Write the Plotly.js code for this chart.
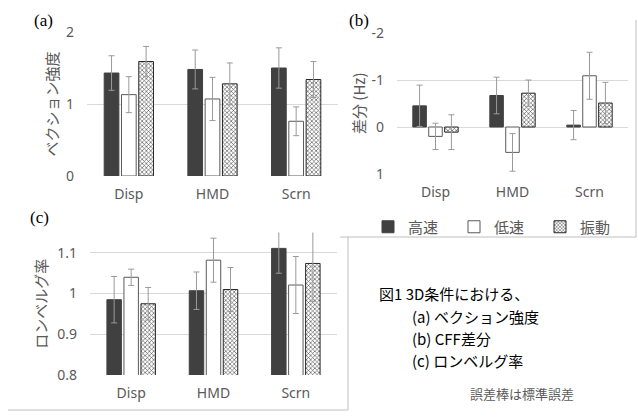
<!DOCTYPE html>
<html><head><meta charset="utf-8">
<script src="https://cdn.plot.ly/plotly-3.0.1.min.js"></script>
<style>html,body{margin:0;padding:0;background:#fff}#chart{width:638px;height:418px}</style>
</head><body><div id="chart"></div>
<script>
// ---- data ----
const categories = ['Disp', 'HMD', 'Scrn'];
const seriesNames = ['高速', '低速', '振動'];

// (a) ベクション強度
const vectionFast = [1.43, 1.48, 1.50];
const vectionFastErr = [0.24, 0.27, 0.28];
const vectionSlow = [1.13, 1.07, 0.76];
const vectionSlowErr = [0.25, 0.30, 0.20];
const vectionVib = [1.59, 1.28, 1.34];
const vectionVibErr = [0.21, 0.29, 0.25];

// (b) CFF差分 (Hz)
const cffFast = [-0.45, -0.67, -0.04];
const cffFastErr = [0.44, 0.39, 0.31];
const cffSlow = [0.20, 0.54, -1.09];
const cffSlowErr = [0.28, 0.40, 0.50];
const cffVib = [0.11, -0.72, -0.51];
const cffVibErr = [0.37, 0.28, 0.44];

// (c) ロンベルグ率
const rombergFast = [0.985, 1.007, 1.111];
const rombergFastErr = [0.057, 0.046, 0.061];
const rombergSlow = [1.040, 1.082, 1.021];
const rombergSlowErr = [0.020, 0.054, 0.070];
const rombergVib = [0.975, 1.010, 1.074];
const rombergVibErr = [0.040, 0.054, 0.094];

const yTicksA = [0, 1, 2];
const yTicksB = [-2, -1, 0, 1];
const yTickTextB = ['-2', '-1', '0', '1'];
const yTicksC = [0.8, 0.9, 1.0, 1.1];
const yTickTextC = ['0.8', '0.9', '1', '1.1'];

// ---- helpers ----
const W = 638, H = 418;
const px = x => x / W;
const py = y => 1 - y / H;
const JP = "'Noto Sans CJK JP', 'Noto Sans', sans-serif";
const LAT = "'Noto Sans', 'Open Sans', sans-serif";
const GRAY = '#595959';

const styles = [
  {color: '#404040', line: {color: '#404040', width: 1}},
  {color: '#ffffff', line: {color: '#595959', width: 1}},
  {color: '#ffffff', line: {color: '#262626', width: 1},
   pattern: {shape: 'x', fgcolor: '#404040', bgcolor: '#ffffff', size: 3, solidity: 0.35}}
];

function bar(xa, ya, vals, errs, i, showlegend) {
  return {
    type: 'bar', x: categories, y: vals, name: seriesNames[i],
    xaxis: xa, yaxis: ya, showlegend: showlegend, legendgroup: 's' + i,
    marker: styles[i],
    error_y: {type: 'data', array: errs, visible: true, color: '#9a9a9a', thickness: 1, width: 3},
    hoverinfo: 'skip'
  };
}

const data = [
  bar('x', 'y', vectionFast, vectionFastErr, 0, false),
  bar('x', 'y', vectionSlow, vectionSlowErr, 1, false),
  bar('x', 'y', vectionVib, vectionVibErr, 2, false),
  bar('x2', 'y2', cffFast, cffFastErr, 0, true),
  bar('x2', 'y2', cffSlow, cffSlowErr, 1, true),
  bar('x2', 'y2', cffVib, cffVibErr, 2, true),
  bar('x3', 'y3', rombergFast, rombergFastErr, 0, false),
  bar('x3', 'y3', rombergSlow, rombergSlowErr, 1, false),
  bar('x3', 'y3', rombergVib, rombergVibErr, 2, false)
];

function xax(anchor, d) {
  return {domain: d, anchor: anchor, showgrid: false, zeroline: false, showline: false,
    ticks: '', tickfont: {family: LAT, size: 14, color: GRAY}, ticklabelstandoff: 8, fixedrange: true};
}
function yax(anchor, d, range, tv, tt, title, standoff) {
  const o = {domain: d, anchor: anchor, range: range, tickmode: 'array', tickvals: tv,
    gridcolor: '#d9d9d9', gridwidth: 1, zeroline: false, showline: false, ticks: '',
    tickfont: {family: LAT, size: 14, color: GRAY}, ticklabelstandoff: 12, fixedrange: true};
  if (title) o.title = {text: title, font: {family: JP, size: 15, color: GRAY}, standoff: standoff};
  if (tt) o.ticktext = tt;
  return o;
}

const frameColor = '#bfbfbf';
function seg(x0, y0, x1, y1) {
  return {type: 'line', xref: 'paper', yref: 'paper', x0: px(x0), y0: py(y0), x1: px(x1), y1: py(y1),
    line: {color: frameColor, width: 1}};
}

function note(text, x, y, size, color, family, anchor) {
  return {text: text, xref: 'paper', yref: 'paper', x: px(x), y: py(y), showarrow: false,
    xanchor: anchor || 'left', yanchor: 'middle', align: 'left',
    font: {family: family, size: size, color: color}};
}
const SERIF = "'Liberation Serif', 'DejaVu Serif', serif";

const titleB = note('差分 (Hz)', 358, 103, 15, GRAY, JP, 'center');
titleB.textangle = -90;

const layout = {
  width: W, height: H, margin: {l: 0, r: 0, t: 0, b: 0},
  paper_bgcolor: '#ffffff', plot_bgcolor: 'rgba(0,0,0,0)',
  barmode: 'group', bargap: 0.38, bargroupgap: 0.15,
  font: {family: LAT, color: GRAY},
  xaxis: xax('y', [px(87), px(338)]),
  yaxis: yax('x', [py(176), py(32)], [0, 2], yTicksA, null, 'ベクション強度', 3),
  xaxis2: xax('y2', [px(397), px(628)]),
  yaxis2: yax('x2', [py(174), py(33)], [1, -2], yTicksB, yTickTextB, null, 0),
  xaxis3: xax('y3', [px(90), px(337)]),
  yaxis3: yax('x3', [py(375), py(232.5)], [0.8, 1.15], yTicksC, yTickTextC, 'ロンベルグ率', 5),
  showlegend: true,
  legend: {orientation: 'h', x: px(368), y: py(227), xanchor: 'left', yanchor: 'middle',
    font: {family: JP, size: 15, color: GRAY}, entrywidth: 41, entrywidthmode: 'pixels',
    itemwidth: 30, bgcolor: 'rgba(0,0,0,0)', traceorder: 'normal'},
  shapes: [
    seg(340, 237, 636, 237), seg(636, 20, 636, 237),
    seg(8, 410, 348, 410), seg(348, 237, 348, 410)
  ],
  annotations: [
    titleB,
    note('(a)', 32, 20, 17, '#000', SERIF),
    note('(b)', 347, 20, 17, '#000', SERIF),
    note('(c)', 28, 217, 17, '#000', SERIF),
    note('図1 3D条件における、', 377, 293, 15, '#000', JP),
    note('(a) ベクション強度', 410, 316, 15, '#000', JP),
    note('(b) CFF差分', 410, 338, 15, '#000', JP),
    note('(c) ロンベルグ率', 410, 360, 15, '#000', JP),
    note('誤差棒は標準誤差', 468, 393, 13, GRAY, JP)
  ]
};

Plotly.newPlot('chart', data, layout, {displayModeBar: false, staticPlot: true});
</script>
</body></html>
